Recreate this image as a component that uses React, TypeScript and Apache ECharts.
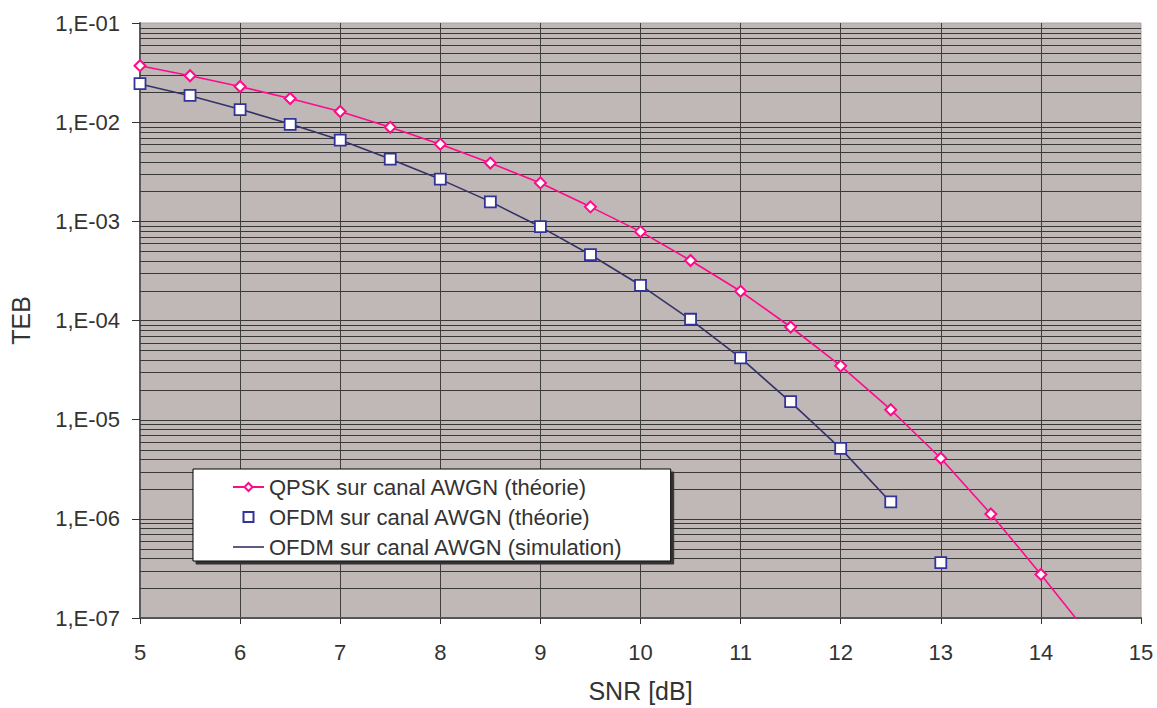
import React, { useEffect, useRef } from "react";
import * as echarts from "echarts";

const qpskSnr = [5, 5.5, 6, 6.5, 7, 7.5, 8, 8.5, 9, 9.5, 10, 10.5, 11, 11.5, 12, 12.5, 13, 13.5, 14, 14.5];
const qpskTheory = [0.0371, 0.0294, 0.0229, 0.0173, 0.0128, 0.00887, 0.006, 0.00387, 0.00244, 0.0014, 7.87e-4, 4.03e-4, 1.97e-4, 8.6e-5, 3.49e-5, 1.26e-5, 4.08e-6, 1.12e-6, 2.75e-7, 6.4e-8];

const ofdmSnr = [5, 5.5, 6, 6.5, 7, 7.5, 8, 8.5, 9, 9.5, 10, 10.5, 11, 11.5, 12, 12.5, 13];
const ofdmTheory = [0.0245, 0.0186, 0.0134, 0.0095, 0.00658, 0.00424, 0.00267, 0.00157, 8.83e-4, 4.62e-4, 2.26e-4, 1.03e-4, 4.2e-5, 1.52e-5, 5.14e-6, 1.48e-6, 3.62e-7];

const simSnr = [5, 5.5, 6, 6.5, 7, 7.5, 8, 8.5, 9, 9.5, 10, 10.5, 11, 11.5, 12, 12.5];
const ofdmSim = [0.0243, 0.0185, 0.0135, 0.0096, 0.0066, 0.00426, 0.00265, 0.00158, 8.8e-4, 4.6e-4, 2.27e-4, 1.02e-4, 4.2e-5, 1.5e-5, 5.1e-6, 1.47e-6];

const seriesNames = [
  "QPSK sur canal AWGN (théorie)",
  "OFDM sur canal AWGN (théorie)",
  "OFDM sur canal AWGN (simulation)",
];

const xMin = 5;
const xMax = 15;
const yMin = 1e-7;
const yMax = 1e-1;
const decades = [-7, -6, -5, -4, -3, -2];
const mantissas = [1, 2, 3, 4, 5, 6, 7, 8, 9];

const FONT = "'Liberation Sans', Arial, sans-serif";
const TXT = "#333333";

export default function App() {
  const ref = useRef<HTMLDivElement>(null);
  useEffect(() => {
    document.body.style.margin = "0";
    document.body.style.overflow = "hidden";
    const chart = echarts.init(ref.current!, null, { renderer: "svg" });
    const gridValues: number[] = [];
    decades.forEach((d) => {
      mantissas.forEach((m) => {
        if (d === -7 && m === 1) return;
        gridValues.push(parseFloat((m * Math.pow(10, d)).toPrecision(3)));
      });
    });
    const pair = (xs: number[], ys: number[]) => xs.map((x, i) => [x, ys[i]]);
    chart.setOption({
      animation: false,
      textStyle: { fontFamily: FONT, color: TXT },
      grid: {
        left: 135,
        right: 16,
        top: 23,
        bottom: 86,
        show: true,
        backgroundColor: "#c0b8b6",
        borderColor: "#a8a2a2",
        borderWidth: 1,
      },
      legend: {
        data: [
          { name: seriesNames[0] },
          { name: seriesNames[1], icon: "path://M0,0H10V10H0Z" },
          { name: seriesNames[2], icon: "path://M0,0H31V1.6H0Z" },
        ],
        orient: "vertical",
        left: 193,
        top: 469,
        backgroundColor: "#ffffff",
        borderColor: "#000000",
        borderWidth: 1,
        borderRadius: 0,
        padding: [7, 48, 3, 39],
        itemGap: 8,
        itemWidth: 31,
        itemHeight: 10,
        symbolKeepAspect: true,
        shadowColor: "#333333",
        shadowOffsetX: 3,
        shadowOffsetY: 3,
        shadowBlur: 0,
        textStyle: { fontSize: 22, color: TXT, fontFamily: FONT },
      },
      xAxis: {
        type: "value",
        min: xMin,
        max: xMax,
        interval: 1,
        name: "SNR [dB]",
        nameLocation: "middle",
        nameGap: 60,
        nameTextStyle: { fontSize: 25, color: TXT, fontFamily: FONT },
        axisLine: { show: true, onZero: false, lineStyle: { color: "#555555", width: 2 } },
        axisTick: { show: true, length: 6, lineStyle: { color: "#333333" } },
        axisLabel: { fontSize: 22, color: TXT, margin: 23, fontFamily: FONT },
        splitLine: {
          show: true,
          showMinLine: false,
          showMaxLine: false,
          lineStyle: { color: "#404040", width: 1 },
        },
      },
      yAxis: {
        type: "log",
        logBase: 10,
        min: yMin,
        max: yMax,
        name: "TEB",
        nameLocation: "middle",
        nameGap: 107,
        nameTextStyle: { fontSize: 25, color: TXT, fontFamily: FONT },
        axisLine: { show: true, lineStyle: { color: "#5a5a5a", width: 2 } },
        axisTick: { show: true, length: 8, lineStyle: { color: "#333333" } },
        axisLabel: {
          fontSize: 22,
          color: TXT,
          margin: 20,
          fontFamily: FONT,
          formatter: (v: number) => {
            const e = Math.round(Math.log10(v));
            const s = String(Math.abs(e)).padStart(2, "0");
            return "1,E" + (e < 0 ? "-" : "+") + s;
          },
        },
        splitLine: { show: false },
      },
      series: [
        {
          name: "gridlines",
          type: "custom",
          silent: true,
          z: 1,
          clip: true,
          data: gridValues.map((v) => [xMin, v]),
          encode: { x: 0, y: 1 },
          renderItem: (params: any, api: any) => {
            const v = api.value(1);
            const p1 = api.coord([xMin, v]);
            const p2 = api.coord([xMax, v]);
            const y = Math.round(p1[1]) + 0.5;
            return {
              type: "line",
              shape: { x1: p1[0], y1: y, x2: p2[0], y2: y },
              style: { stroke: "#383838", lineWidth: 1 },
            };
          },
        },
        {
          name: seriesNames[2],
          type: "line",
          data: pair(simSnr, ofdmSim),
          symbol: "none",
          showSymbol: false,
          lineStyle: { color: "#333366", width: 1.6 },
          itemStyle: { color: "#333366" },
          z: 3,
        },
        {
          name: seriesNames[0],
          type: "line",
          data: pair(qpskSnr, qpskTheory),
          symbol: "diamond",
          symbolSize: 11,
          showAllSymbol: true,
          lineStyle: { color: "#ff0a8c", width: 1.6 },
          itemStyle: { color: "#ffffff", borderColor: "#ff0a8c", borderWidth: 2 },
          z: 4,
        },
        {
          name: seriesNames[1],
          type: "scatter",
          data: pair(ofdmSnr, ofdmTheory),
          symbol: "rect",
          symbolSize: 11,
          itemStyle: { color: "#ffffff", borderColor: "#333399", borderWidth: 1.8, opacity: 1 },
          z: 5,
        },
      ],
    });
    return () => chart.dispose();
  }, []);
  return <div ref={ref} style={{ width: 1157, height: 708, display: "block" }} />;
}
